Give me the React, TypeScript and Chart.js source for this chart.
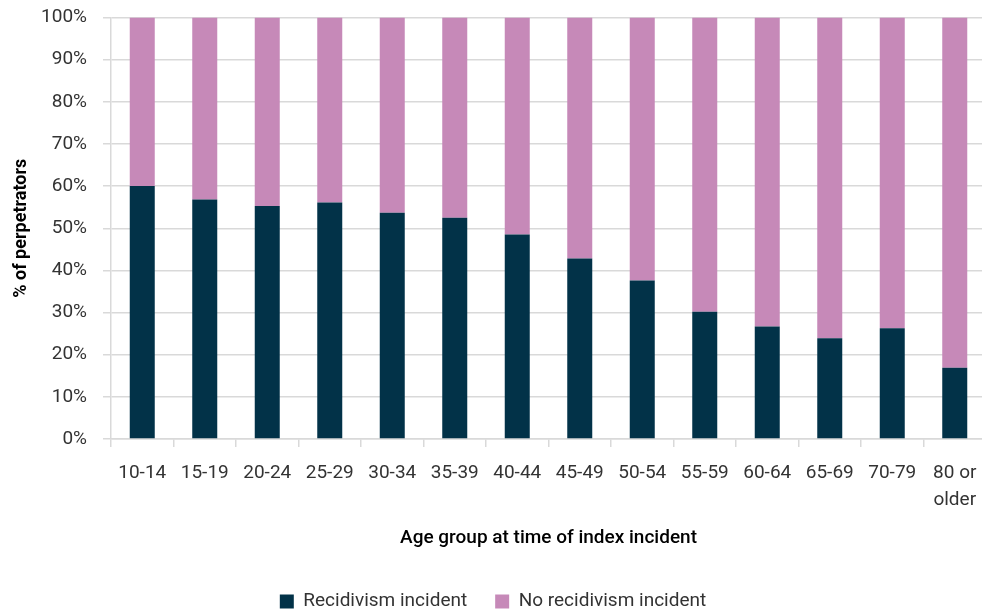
import React, { useEffect, useRef } from 'react';
import { Chart, registerables } from 'chart.js';

Chart.register(...registerables);

const categories: (string | string[])[] = [
  '10-14', '15-19', '20-24', '25-29', '30-34', '35-39', '40-44',
  '45-49', '50-54', '55-59', '60-64', '65-69', '70-79', ['80 or', 'older'],
];
const recidivism = [60.0, 56.8, 55.3, 56.1, 53.7, 52.5, 48.5, 42.8, 37.6, 30.2, 26.7, 23.9, 26.3, 16.9];
const noRecidivism = [40.0, 43.2, 44.7, 43.9, 46.3, 47.5, 51.5, 57.2, 62.4, 69.8, 73.3, 76.1, 73.7, 83.1];
const yTicks = [0, 10, 20, 30, 40, 50, 60, 70, 80, 90, 100];

const FONT = 'Roboto, "Noto Sans", sans-serif';
const TEXT = '#333333';
const GRID = '#d9d9d9';

export default function App() {
  const ref = useRef<HTMLCanvasElement | null>(null);
  useEffect(() => {
    document.body.style.margin = '0';
    const canvas = ref.current;
    if (!canvas) return;
    const chart = new Chart(canvas, {
      type: 'bar',
      data: {
        labels: categories,
        datasets: [
          {
            label: 'Recidivism incident',
            data: recidivism,
            backgroundColor: '#023248',
            barPercentage: 0.4,
            categoryPercentage: 1,
          },
          {
            label: 'No recidivism incident',
            data: noRecidivism,
            backgroundColor: '#c689b8',
            barPercentage: 0.4,
            categoryPercentage: 1,
          },
        ],
      },
      options: {
        animation: false,
        responsive: false,
        maintainAspectRatio: false,
        layout: { padding: { top: 17.5, right: 0, left: 0, bottom: -7 } },
        plugins: {
          tooltip: { enabled: false },
          legend: {
            position: 'bottom',
            labels: {
              font: { family: FONT, size: 19 },
              color: TEXT,
              boxWidth: 14,
              boxHeight: 14,
              padding: 28,
            },
          },
        },
        scales: {
          x: {
            stacked: true,
            offset: true,
            grid: {
              offset: true,
              drawOnChartArea: false,
              drawTicks: true,
              tickLength: 8,
              color: GRID,
              lineWidth: 1.5,
            },
            border: { display: true, color: GRID, width: 1.5 },
            ticks: {
              font: { family: FONT, size: 19, lineHeight: 1.45 },
              color: TEXT,
              padding: 12,
              maxRotation: 0,
              autoSkip: false,
            },
            title: {
              display: true,
              text: 'Age group at time of index incident',
              font: { family: FONT, size: 19, weight: '500' },
              color: '#000000',
              padding: { top: 10, bottom: 14 },
            },
            afterFit: (scale: any) => {
              scale.height = 125;
              scale.paddingLeft = 0;
              scale.paddingRight = 0;
            },
          },
          y: {
            stacked: true,
            min: 0,
            max: 100,
            afterBuildTicks: (scale: any) => {
              scale.ticks = yTicks.map((v) => ({ value: v }));
            },
            grid: {
              color: GRID,
              lineWidth: 1.5,
              tickLength: 8,
            },
            border: { display: true, color: GRID, width: 1.5 },
            ticks: {
              font: { family: FONT, size: 19 },
              color: TEXT,
              padding: 16,
              callback: (v: any) => v + '%',
            },
            title: {
              display: true,
              text: '% of perpetrators',
              font: { family: FONT, size: 18, weight: 'bold' },
              color: '#000000',
              padding: { top: 11, bottom: 0 },
            },
            afterFit: (scale: any) => {
              scale.width = 111;
              scale.paddingTop = 0;
              scale.paddingBottom = 0;
            },
          },
        },
      },
    });
    return () => chart.destroy();
  }, []);
  return (
    <div style={{ width: 982, height: 614, overflow: 'hidden' }}>
      <canvas ref={ref} width={986} height={614} style={{ display: 'block' }} />
    </div>
  );
}
